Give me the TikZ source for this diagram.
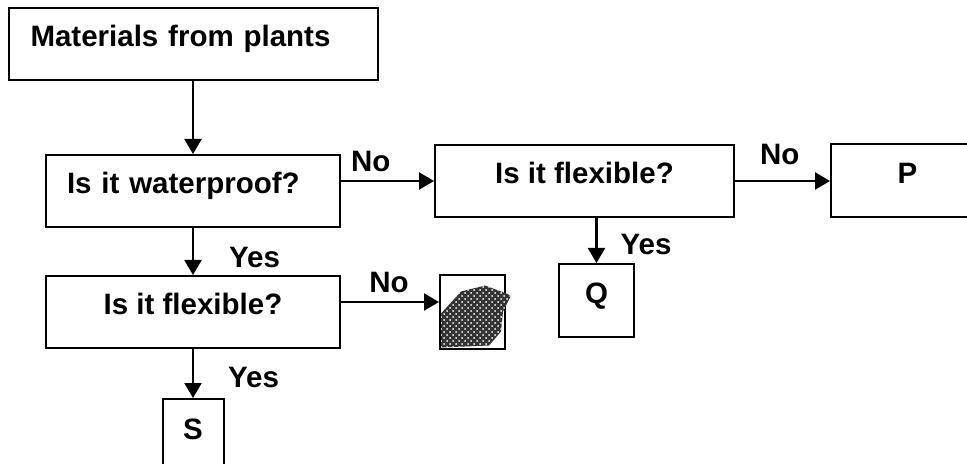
\documentclass[tikz,border=0pt]{standalone}
\usepackage{fontspec}
\setmainfont{Liberation Sans}
\usetikzlibrary{arrows.meta,positioning,patterns}
\tikzset{
    flowBox/.style={
        draw,
        line width=1pt,
        align=center,
        minimum height=36pt,
        text height=11pt,
        text depth=8.5pt,
        font=\fontsize{14.75}{17}\selectfont\bfseries
    },
    flowSmall/.style={
        flowBox,
        minimum width=37.5pt,
        minimum height=36.5pt
    },
    flowArrow/.style={
        -{Triangle[length=7.5pt,width=8.5pt]},
        line width=1.1pt
    },
    flowLabel/.style={
        inner sep=0pt,
        font=\fontsize{14.75}{17}\selectfont\bfseries
    }
}

\begin{document}
\begin{tikzpicture}[node distance=23.5pt and 47pt]
        \clip (0,0) rectangle (483.5pt,-232pt);

        \node[flowBox,align=left,text width=162.5pt,inner xsep=11pt] (materials) at (96.5pt,-22pt) {Materials from plants};
        \node[flowBox,align=left,text width=126pt,inner xsep=10.5pt,below=36.5pt of materials] (waterproof) {Is it waterproof?};
        \node[flowBox,minimum width=149.5pt,right=46.5pt of waterproof,yshift=5pt] (flexibleTop) {Is it flexible?};
        \node[flowBox,minimum width=76.5pt,minimum height=36.5pt,right=47.5pt of flexibleTop] (plantP) {P};
        \node[flowSmall,below=22.5pt of flexibleTop,xshift=6pt] (plantQ) {Q};
        \node[flowBox,minimum width=147pt,below=of waterproof] (flexibleLow) {Is it flexible?};
        \node[flowSmall,minimum width=32.5pt,right=49pt of flexibleLow] (plantR) {};
        \node[flowSmall,minimum width=30.5pt,minimum height=38pt,below=24.5pt of flexibleLow] (plantS) {S};

        % scribbled-over answer box
        \path[preaction={fill=black!80},pattern=crosshatch dots,pattern color=white]
            ([shift={(1pt,1pt)}]plantR.south west) -- ++(0,17pt) -- ++(10pt,11pt) -- ++(12pt,3pt)
            -- ++(8pt,-3pt) -- ++(5pt,-2pt) -- ++(-4pt,-8pt) -- ++(-1pt,-10pt) -- ++(-6pt,-7pt) -- cycle;

        \draw[flowArrow] (materials) -- (waterproof);
        \draw[flowArrow] (waterproof.east |- flexibleTop) -- node[flowLabel,above=4pt,pos=0.32] {No} (flexibleTop);
        \draw[flowArrow] (flexibleTop) -- node[flowLabel,above=7.5pt,pos=0.47] {No} (plantP);
        \draw[flowArrow] (flexibleTop.south -| plantQ) -- node[flowLabel,right=11.5pt,pos=0.58] {Yes} (plantQ);
        \draw[flowArrow] (waterproof) -- node[flowLabel,right=17.5pt,pos=0.62] {Yes} (flexibleLow);
        \draw[flowArrow] ([yshift=5pt]flexibleLow.east) -- node[flowLabel,above=4pt,pos=0.49] {No} ([yshift=5pt]plantR.west);
        \draw[flowArrow] (flexibleLow) -- node[flowLabel,right=17pt,pos=0.59] {Yes} (plantS);
    \end{tikzpicture}
\end{document}
